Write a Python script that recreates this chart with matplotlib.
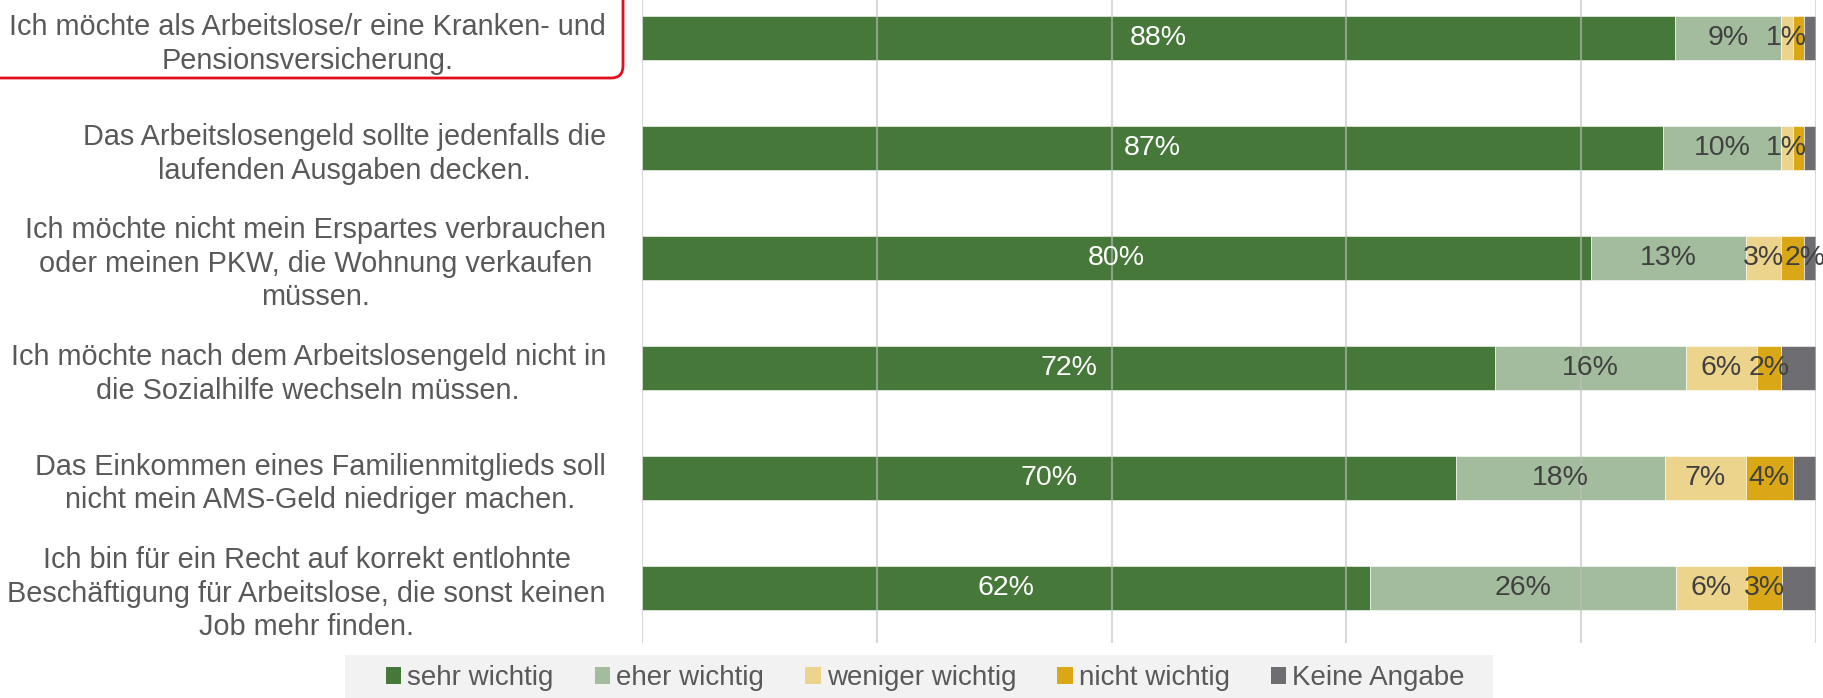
import numpy as np
import matplotlib.pyplot as plt
from matplotlib.patches import FancyBboxPatch, Rectangle

plt.rcParams['font.family'] = ['Liberation Sans', 'DejaVu Sans']

# Aussagen (Kategorien), von oben nach unten
statements = [
    "Ich möchte als Arbeitslose/r eine Kranken- und\nPensionsversicherung.",
    "Das Arbeitslosengeld sollte jedenfalls die\nlaufenden Ausgaben decken.",
    "Ich möchte nicht mein Erspartes verbrauchen\noder meinen PKW, die Wohnung verkaufen\nmüssen.",
    "Ich möchte nach dem Arbeitslosengeld nicht in\ndie Sozialhilfe wechseln müssen.",
    "Das Einkommen eines Familienmitglieds soll\nnicht mein AMS-Geld niedriger machen.",
    "Ich bin für ein Recht auf korrekt entlohnte\nBeschäftigung für Arbeitslose, die sonst keinen\nJob mehr finden.",
]

answers = ["sehr wichtig", "eher wichtig", "weniger wichtig", "nicht wichtig", "Keine Angabe"]
colors = ["#46783A", "#A2BC9D", "#EDD48C", "#DAA817", "#6D6D72"]
text_colors = ["white", "#404040", "#404040", "#404040", "#404040"]

# Anteile in % (aus dem Bild geschätzt)
sehr = [88, 87, 80.8, 72.7, 69.3, 62]
eher = [9, 10, 13.2, 16.2, 17.8, 26.1]
weniger = [1, 1, 3.0, 6.1, 6.9, 6.0]
nicht = [1, 1, 2.0, 2.0, 4.0, 3.0]
keine = [1, 1, 1.0, 3.0, 2.0, 2.9]

# angezeigte Beschriftungen ("" = keine Beschriftung)
sehr_lbl = ["88%", "87%", "80%", "72%", "70%", "62%"]
eher_lbl = ["9%", "10%", "13%", "16%", "18%", "26%"]
weniger_lbl = ["1%", "1%", "3%", "6%", "7%", "6%"]
nicht_lbl = ["", "", "2%", "2%", "4%", "3%"]
keine_lbl = ["", "", "", "", "", ""]

series = [sehr, eher, weniger, nicht, keine]
labels = [sehr_lbl, eher_lbl, weniger_lbl, nicht_lbl, keine_lbl]

fig = plt.figure(figsize=(18.24, 6.98), dpi=100)
ax = fig.add_axes([642 / 1824, 55 / 698, 1174 / 1824, 643 / 698])

y = np.arange(len(statements))
left = np.zeros(len(statements))
handles = []
all_labels = []
for vals, name, col, tcol, lbls in zip(series, answers, colors, text_colors, labels):
    bars = ax.barh(y, vals, left=left, height=0.4, color=col, label=name,
                   edgecolor='white', linewidth=0.4, zorder=2)
    handles.append(bars)
    all_labels.append(ax.bar_label(bars, labels=lbls, label_type='center', color=tcol,
                                   fontsize=20.5, zorder=5))
    left += np.array(vals)

# "2%" in der dritten Zeile ist im Original etwas nach rechts verschoben
all_labels[3][2].xyann = (9, 0)

ax.set_xlim(0, 100)
ax.set_ylim(5.5, 5.5 - 643 / 110)
ax.set_xticks(np.arange(0, 101, 20))
ax.set_xticklabels([])
ax.grid(axis='x', color='#BFBFBF', alpha=0.6, linewidth=1.5, zorder=3)
ax.set_axisbelow(False)
ax.tick_params(axis='x', length=0)
ax.tick_params(axis='y', length=0, pad=26)
ax.set_yticks(y)
ax.set_yticklabels(statements, fontsize=20.8, color='#595959', linespacing=1.25)
for t in ax.get_yticklabels():
    t.set_multialignment('center')
for s in ax.spines.values():
    s.set_visible(False)

# rote Markierung um die erste Aussage (Einheiten: Zoll)
box = FancyBboxPatch((-0.2, 6.20), 6.43, 1.2,
                     boxstyle="round,pad=0,rounding_size=0.12",
                     transform=fig.dpi_scale_trans, facecolor='none',
                     edgecolor='#E2101C', linewidth=2.0, clip_on=False)
fig.patches.append(box)

# grauer Legendenhintergrund
fig.patches.append(Rectangle((3.45, 0), 11.48, 0.43, transform=fig.dpi_scale_trans,
                             facecolor='#F2F2F2', edgecolor='none', zorder=0))

leg = fig.legend(handles=handles, labels=answers, ncol=5,
                 loc='center left', bbox_to_anchor=(386 / 1824, 20 / 698),
                 borderaxespad=0, borderpad=0, frameon=False, fontsize=20,
                 handlelength=0.55, handleheight=0.55, handletextpad=0.22,
                 columnspacing=1.48, labelcolor='#595959')
for h in leg.legend_handles:
    h.set_edgecolor('none')

fig.savefig('out.png', dpi=100)
